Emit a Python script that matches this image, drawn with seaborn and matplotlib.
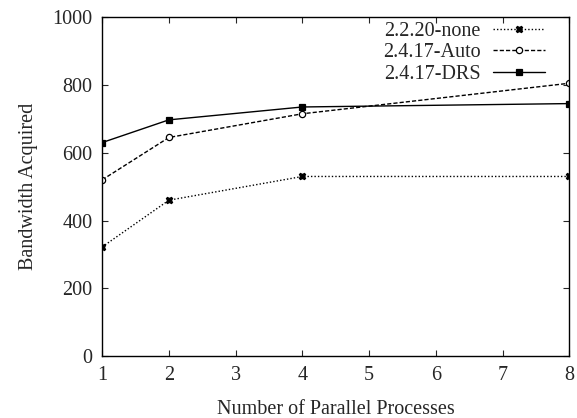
import matplotlib
matplotlib.use("Agg")
import matplotlib.pyplot as plt
import seaborn as sns
import pandas as pd

processes = [1, 2, 4, 8]
series_names = ["2.2.20-none", "2.4.17-Auto", "2.4.17-DRS"]
none_vals = [322, 460, 530, 530]
auto_vals = [520, 645, 715, 805]
drs_vals = [630, 697, 735, 745]
x_ticks = [1, 2, 3, 4, 5, 6, 7, 8]
y_ticks = [0, 200, 400, 600, 800, 1000]

rows = []
for name, vals in zip(series_names, [none_vals, auto_vals, drs_vals]):
    for p, v in zip(processes, vals):
        rows.append({"Processes": p, "Bandwidth": v, "Series": name})
df = pd.DataFrame(rows)

sns.set_style("ticks")
plt.rcParams['font.family'] = ['Liberation Serif', 'DejaVu Serif']
FS = 14.5

fig = plt.figure(figsize=(5.77, 4.18), dpi=100)
ax = fig.add_axes([0.177, 0.148, 0.81, 0.811])

sns.lineplot(data=df, x="Processes", y="Bandwidth", hue="Series", style="Series",
             palette=["black", "black", "black"],
             dashes={"2.2.20-none": (1, 1.5), "2.4.17-Auto": (3, 1.5), "2.4.17-DRS": ""},
             markers={"2.2.20-none": "X", "2.4.17-Auto": "o", "2.4.17-DRS": "s"},
             ax=ax, linewidth=1.0, markersize=4.5, legend=True)

def style_line(line, idx):
    line.set_color("black")
    line.set_markeredgecolor("black")
    line.set_markeredgewidth(0.9)
    if idx == 1:
        line.set_markerfacecolor("white")
    else:
        line.set_markerfacecolor("black")

for i, line in enumerate(ax.get_lines()[:3]):
    style_line(line, i)

ax.set_xlim(1, 8)
ax.set_ylim(0, 1000)
ax.set_xticks(x_ticks)
ax.set_yticks(y_ticks)
ax.tick_params(direction="in", top=True, right=True, length=4, width=0.8, labelsize=FS, pad=7)
for s in ax.spines.values():
    s.set_linewidth(1.0)
    s.set_color("black")
ax.set_xlabel("Number of Parallel Processes", fontsize=FS, labelpad=11)
ax.set_ylabel("Bandwidth Acquired", fontsize=FS, labelpad=10)

handles, labels = ax.get_legend_handles_labels()
for i, h in enumerate(handles):
    style_line(h, i)
ax.legend(handles, labels, loc="upper right", bbox_to_anchor=(0.965, 1.01),
          frameon=False, markerfirst=False,
          fontsize=FS, handlelength=2.6, labelspacing=0.12, borderaxespad=0.0,
          handletextpad=0.6)

fig.savefig("out.png", dpi=100)
